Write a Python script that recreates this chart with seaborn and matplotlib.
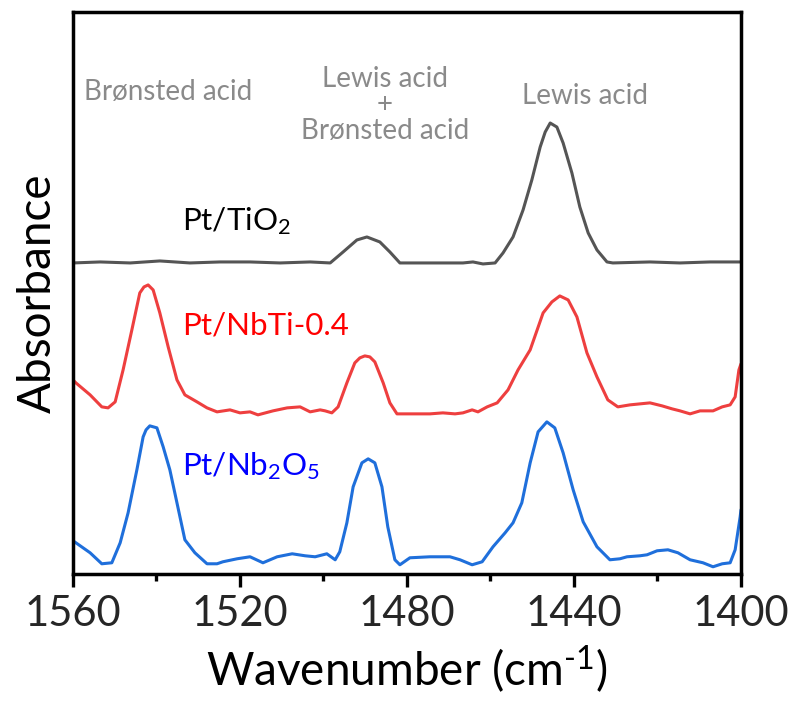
import matplotlib
matplotlib.use("Agg")
import matplotlib.pyplot as plt
import seaborn as sns
import pandas as pd
from matplotlib.ticker import MultipleLocator

# Pyridine-IR spectra (arbitrary absorbance, offset for display)
wn_tio2 = [1560.0, 1553.5, 1546.3, 1539.2, 1532.0, 1524.8, 1517.6, 1510.4, 1503.2,
           1498.4, 1495.3, 1492.0, 1489.6, 1486.5, 1484.1, 1481.7, 1477.6, 1472.1,
           1466.6, 1464.2, 1461.8, 1458.9, 1457.0, 1454.6, 1452.2, 1450.1, 1448.1,
           1446.9, 1445.7, 1444.1, 1442.6, 1440.5, 1438.6, 1436.6, 1434.5, 1432.1,
           1430.7, 1421.8, 1414.6, 1407.4, 1400.0]
abs_tio2 = [3.11, 3.12, 3.11, 3.13, 3.11, 3.12, 3.12, 3.11, 3.12,
            3.11, 3.22, 3.34, 3.37, 3.32, 3.22, 3.11, 3.11, 3.11,
            3.11, 3.12, 3.10, 3.11, 3.21, 3.37, 3.64, 3.94, 4.27,
            4.42, 4.51, 4.47, 4.31, 4.01, 3.67, 3.41, 3.24, 3.12,
            3.11, 3.12, 3.11, 3.12, 3.12]

wn_nbti = [1560.0, 1559.3, 1555.9, 1553.1, 1551.6, 1549.9, 1548.0, 1545.9, 1544.0,
           1543.0, 1542.0, 1540.8, 1539.2, 1537.2, 1535.1, 1533.2, 1530.3, 1527.9,
           1525.5, 1522.4, 1520.0, 1517.6, 1515.7, 1512.1, 1508.7, 1505.6, 1503.2,
           1500.8, 1499.6, 1498.0, 1496.5, 1494.4, 1492.5, 1491.3, 1490.1, 1488.9,
           1487.7, 1485.7, 1484.1, 1482.4, 1480.0, 1477.6, 1474.5, 1471.4, 1468.5,
           1466.6, 1464.4, 1463.0, 1460.8, 1458.4, 1455.8, 1453.4, 1450.5, 1447.4,
           1445.3, 1443.4, 1441.4, 1439.3, 1436.9, 1434.5, 1431.9, 1429.5, 1426.6,
           1424.2, 1421.8, 1418.9, 1416.5, 1414.6, 1412.2, 1409.8, 1406.7, 1404.5,
           1402.6, 1401.4, 1400.5, 1400.0]
abs_nbti = [1.94, 1.91, 1.79, 1.67, 1.66, 1.72, 2.04, 2.44, 2.81,
            2.87, 2.89, 2.84, 2.61, 2.27, 1.94, 1.79, 1.72, 1.66,
            1.62, 1.64, 1.61, 1.62, 1.59, 1.63, 1.66, 1.67, 1.62,
            1.64, 1.63, 1.61, 1.67, 1.91, 2.11, 2.16, 2.18, 2.17,
            2.12, 1.91, 1.71, 1.60, 1.60, 1.60, 1.60, 1.61, 1.60,
            1.61, 1.64, 1.62, 1.67, 1.71, 1.84, 2.04, 2.24, 2.61,
            2.72, 2.78, 2.74, 2.57, 2.21, 1.97, 1.74, 1.67, 1.69,
            1.70, 1.71, 1.68, 1.65, 1.63, 1.60, 1.63, 1.63, 1.67,
            1.69, 1.77, 2.04, 2.10]

wn_nb2o5 = [1560.0, 1559.3, 1555.9, 1553.1, 1550.7, 1548.7, 1546.8, 1544.7, 1543.2,
            1542.5, 1541.6, 1539.9, 1538.4, 1536.8, 1535.1, 1533.2, 1530.8, 1527.9,
            1525.5, 1524.1, 1520.7, 1517.6, 1514.5, 1511.1, 1507.5, 1504.4, 1502.0,
            1499.2, 1497.2, 1496.1, 1494.4, 1492.9, 1490.8, 1489.3, 1487.7, 1486.0,
            1484.6, 1482.9, 1481.7, 1479.3, 1474.5, 1469.7, 1467.3, 1464.4, 1462.0,
            1459.4, 1456.5, 1454.6, 1452.5, 1450.5, 1448.6, 1446.5, 1444.6, 1442.6,
            1440.2, 1437.8, 1434.5, 1431.4, 1429.0, 1427.3, 1424.2, 1422.5, 1420.1,
            1417.5, 1415.1, 1412.2, 1409.1, 1406.7, 1404.5, 1402.6, 1401.4, 1400.2,
            1400.0]
abs_nb2o5 = [0.33, 0.31, 0.21, 0.10, 0.11, 0.31, 0.61, 1.04, 1.37,
             1.44, 1.48, 1.46, 1.27, 1.04, 0.71, 0.34, 0.21, 0.10,
             0.10, 0.12, 0.15, 0.17, 0.11, 0.17, 0.20, 0.18, 0.17,
             0.20, 0.14, 0.22, 0.51, 0.87, 1.11, 1.15, 1.11, 0.87,
             0.47, 0.14, 0.09, 0.16, 0.17, 0.17, 0.14, 0.09, 0.12,
             0.27, 0.41, 0.51, 0.71, 1.11, 1.42, 1.52, 1.46, 1.21,
             0.84, 0.52, 0.27, 0.14, 0.15, 0.17, 0.18, 0.19, 0.23,
             0.24, 0.21, 0.14, 0.11, 0.07, 0.10, 0.11, 0.24, 0.57,
             0.64]

x_ticks = [1560, 1520, 1480, 1440, 1400]

sns.set_theme(style="white")
plt.rcParams["font.family"] = ["Lato", "DejaVu Sans"]
plt.rcParams["mathtext.fontset"] = "custom"
plt.rcParams["mathtext.rm"] = "Lato"
plt.rcParams["mathtext.default"] = "regular"

fig = plt.figure(figsize=(7.96, 7.11), dpi=100)
ax = fig.add_axes([0.0917, 0.193, 0.8392, 0.790])

series = [
    (wn_tio2, abs_tio2, "#555555"),
    (wn_nbti, abs_nbti, "#EE3F3F"),
    (wn_nb2o5, abs_nb2o5, "#1F6FDB"),
]
for wn, ab, col in series:
    df = pd.DataFrame({"wn": wn, "abs": ab})
    sns.lineplot(data=df, x="wn", y="abs", ax=ax, color=col, linewidth=2.2,
                 sort=False, estimator=None, solid_joinstyle="round",
                 solid_capstyle="round")

ax.set_xlim(1560, 1400)
ax.set_ylim(0, 5.62)
ax.set_xticks(x_ticks)
ax.set_xticklabels([str(t) for t in x_ticks])
ax.xaxis.set_minor_locator(MultipleLocator(20))
ax.set_yticks([])
ax.tick_params(axis="x", which="major", direction="out", length=9, width=2.4,
               labelsize=30, pad=6, color="black", bottom=True)
ax.tick_params(axis="x", which="minor", direction="out", length=5, width=2.4,
               color="black", bottom=True)
for sp in ax.spines.values():
    sp.set_visible(True)
    sp.set_linewidth(2.5)
    sp.set_color("black")

ax.set_xlabel(r"Wavenumber (cm$^{\text{-1}}$)", fontsize=33, labelpad=8,
              color="black")
ax.set_ylabel("Absorbance", fontsize=33, labelpad=10, color="black")

gray = "#8A8A8A"
ax.text(1537.2, 4.82, "Brønsted acid", color=gray, fontsize=20,
        ha="center", va="center")
ax.text(1485.3, 4.69, "Lewis acid\n+\nBrønsted acid", color=gray, fontsize=20,
        ha="center", va="center", multialignment="center", linespacing=1.0)
ax.text(1437.4, 4.78, "Lewis acid", color=gray, fontsize=20,
        ha="center", va="center")

ax.text(1533.9, 3.44, "Pt/TiO$_2$", color="black", fontsize=22.5,
        ha="left", va="baseline")
ax.text(1533.9, 2.39, "Pt/NbTi-0.4", color="#FF0000", fontsize=22.5,
        ha="left", va="baseline")
ax.text(1533.9, 0.99, "Pt/Nb$_2$O$_5$", color="#0000FF", fontsize=22.5,
        ha="left", va="baseline")

fig.savefig("out.png", dpi=100)
